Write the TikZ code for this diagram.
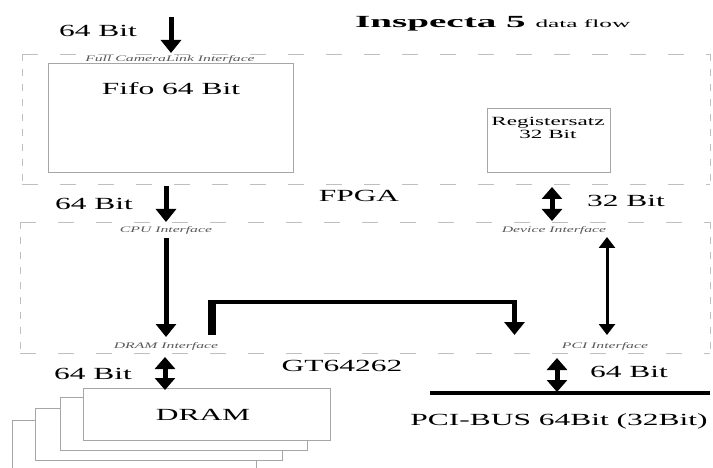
\documentclass[tikz,border=0pt]{standalone}
\usepackage{fontspec}
\setmainfont[FakeStretch=1.85]{Liberation Serif}
\newfontfamily\titlefont[FakeStretch=2.3]{Liberation Serif}
\usetikzlibrary{arrows.meta}
\begin{document}
\begin{tikzpicture}[x=1pt,y=-1pt,
  lbl/.style={font=\fontsize{17}{19}\selectfont, inner sep=0pt, anchor=base},
  reglbl/.style={font=\fontsize{12.5}{13}\selectfont, inner sep=0pt, anchor=base},
  iface/.style={font=\fontsize{8.5}{9}\selectfont\itshape, text=gray!70!black, inner sep=0pt, anchor=base},
  hdash/.style={draw=gray!50, line width=0.9pt, dash pattern=on 16pt off 22pt},
  vdash/.style={draw=gray!50, line width=0.9pt, dash pattern=on 7pt off 8pt},
  box/.style={draw=gray!70, line width=1pt, fill=white, inner sep=0pt, anchor=north west},
  bigarrow/.style={line width=5pt, -{Triangle[width=20pt,length=13pt]}},
  dblarrow/.style={line width=5pt, {Triangle[width=20pt,length=12pt]}-{Triangle[width=20pt,length=12pt]}},
  thinarrow/.style={line width=3pt, {Triangle[width=16pt,length=11pt]}-{Triangle[width=16pt,length=11pt]}}
]
\useasboundingbox (0,0) rectangle (713,468);
\clip (0,0) rectangle (713,468);
\fill[white] (0,0) rectangle (713,468);

% dashed regions
\draw[hdash] (22,54) -- (710,54);
\draw[hdash] (22,184) -- (710,184);
\draw[vdash] (22,54) -- (22,184);
\draw[vdash] (710,54) -- (710,184);
\draw[hdash] (20,222) -- (710,222);
\draw[hdash] (20,353) -- (710,353);
\draw[vdash] (20,222) -- (20,353);
\draw[vdash] (710,222) -- (710,353);

% title
\node[inner sep=0pt, anchor=base west] (title) at (355,28)
  {\titlefont\fontsize{17}{19}\selectfont\bfseries Inspecta 5 \fontsize{11}{12}\selectfont\mdseries data flow};

% boxes
\node[box, minimum width=245pt, minimum height=109pt] (fifo) at (48,63) {};
\node[lbl] (fifolbl) at (171,95) {Fifo 64 Bit};
\node[box, minimum width=123pt, minimum height=64pt] (reg) at (487,108) {};
\node[reglbl] (reglbl1) at (548,126) {Registersatz};
\node[reglbl] (reglbl2) at (548,139) {32 Bit};

% labels
\node[lbl] (in64) at (98,37) {64 Bit};
\node[lbl] (fpga) at (359,202) {FPGA};
\node[lbl] (b64a) at (94,210) {64 Bit};
\node[lbl] (b32) at (626,207) {32 Bit};
\node[lbl] (gt) at (342,371) {GT64262};
\node[lbl] (b64b) at (93,379) {64 Bit};
\node[lbl] (b64c) at (629,377) {64 Bit};
\node[lbl] (pcibus) at (559,425) {PCI-BUS 64Bit (32Bit)};

% interface labels
\node[iface] (camif) at (170,61.5) {Full CameraLink Interface};
\node[iface] (cpuif) at (166,233) {CPU Interface};
\node[iface] (devif) at (554,233) {Device Interface};
\node[iface] (dramif) at (166,348) {DRAM Interface};
\node[iface] (pciif) at (605,348) {PCI Interface};

% DRAM stack
\node[box, minimum width=244pt, minimum height=52pt] (dram4) at (12,420) {};
\node[box, minimum width=247pt, minimum height=52pt] (dram3) at (35,408) {};
\node[box, minimum width=247pt, minimum height=53pt] (dram2) at (60,397) {};
\node[box, minimum width=247pt, minimum height=52pt] (dram1) at (83,388) {};
\node[lbl] (dramlbl) at (203,420) {DRAM};

% PCI bus line
\coordinate (busL) at (430,393);
\coordinate (busR) at (710,393);
\draw[line width=3.5pt] (busL) -- (busR);

% arrow end points
\coordinate (a1s) at (171,17);  \coordinate (a1e) at (171,53);
\coordinate (a2s) at (166,186); \coordinate (a2e) at (166,222);
\coordinate (a3s) at (166,238); \coordinate (a3e) at (166,337);
\coordinate (a4s) at (552,187); \coordinate (a4e) at (552,221);
\coordinate (a5s) at (607,237); \coordinate (a5e) at (607,335);
\coordinate (a6s) at (165,357); \coordinate (a6e) at (165,390);
\coordinate (a7s) at (557,358); \coordinate (a7e) at (557,392);
\coordinate (bA) at (212,335); \coordinate (bB) at (212,302);
\coordinate (bC) at (514.5,302); \coordinate (bD) at (514.5,335);

\draw[bigarrow] (a1s) -- (a1e);
\draw[bigarrow] (a2s) -- (a2e);
\draw[bigarrow] (a3s) -- (a3e);
\draw[dblarrow] (a4s) -- (a4e);
\draw[thinarrow] (a5s) -- (a5e);
\draw[dblarrow] (a6s) -- (a6e);
\draw[dblarrow] (a7s) -- (a7e);

% bent connection DRAM -> PCI
\draw[line width=8pt] (bA) -- ([yshift=-1.5pt]bB);
\draw[line width=3.5pt] ([xshift=-4pt]bB) -- ([xshift=2.5pt]bC);
\draw[bigarrow] ([yshift=-1.75pt]bC) -- (bD);
\end{tikzpicture}
\end{document}
